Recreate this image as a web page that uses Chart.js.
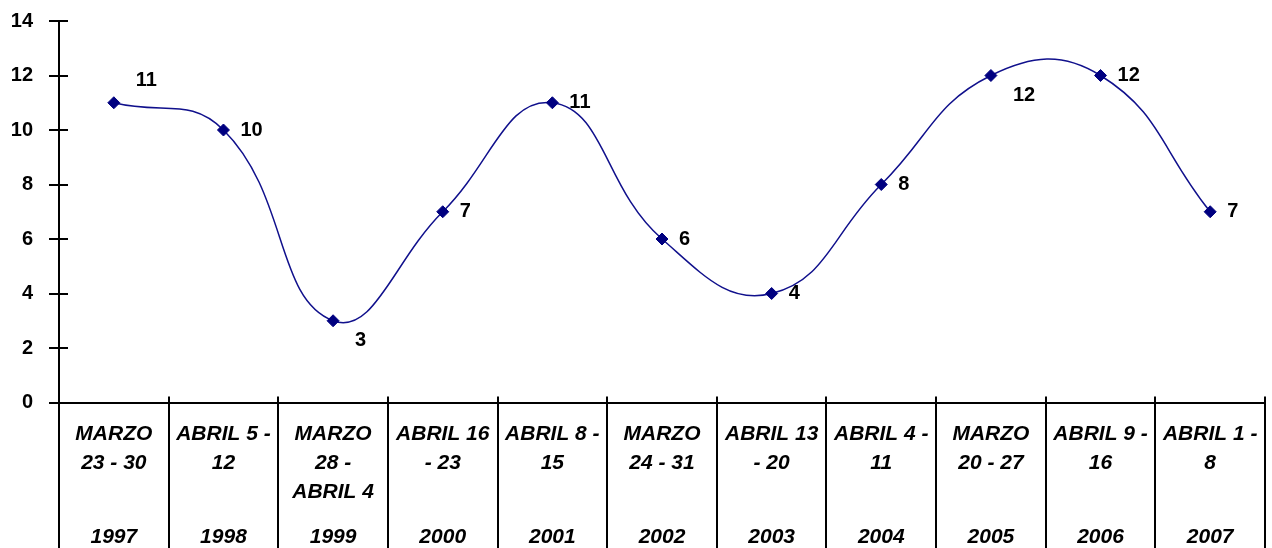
<!DOCTYPE html>
<html><head><meta charset="utf-8">
<script src="https://cdn.jsdelivr.net/npm/chart.js@4.4.1/dist/chart.umd.min.js"></script>
<style>html,body{margin:0;padding:0;background:#fff;overflow:hidden;} canvas{display:block;}</style>
</head><body>
<canvas id="c" width="1272" height="548"></canvas>
<script>
const periods = [
  ["MARZO", "23 - 30"],
  ["ABRIL 5 -", "12"],
  ["MARZO", "28 -", "ABRIL 4"],
  ["ABRIL 16", "- 23"],
  ["ABRIL 8 -", "15"],
  ["MARZO", "24 - 31"],
  ["ABRIL 13", "- 20"],
  ["ABRIL 4 -", "11"],
  ["MARZO", "20 - 27"],
  ["ABRIL 9 -", "16"],
  ["ABRIL 1 -", "8"]
];
const years = ["1997", "1998", "1999", "2000", "2001", "2002", "2003", "2004", "2005", "2006", "2007"];
const values = [11, 10, 3, 7, 11, 6, 4, 8, 12, 12, 7];
const labelSide = ["above", "right", "below", "right", "right", "right", "right", "right", "below", "right", "right"];
const yMin = 0, yMax = 14, yStep = 2;

const FONT = '"Liberation Sans", Arial, sans-serif';
Chart.defaults.font.family = FONT;
Chart.defaults.color = '#000';

const extras = {
  id: 'extras',
  afterDraw(chart) {
    const ctx = chart.ctx, xs = chart.scales.x, ys = chart.scales.y, area = chart.chartArea;
    ctx.save();
    ctx.strokeStyle = '#000';
    ctx.lineWidth = 2;
    ys.ticks.forEach((t, i) => {
      const py = Math.round(ys.getPixelForTick(i));
      ctx.beginPath(); ctx.moveTo(area.left, py); ctx.lineTo(area.left + 9, py); ctx.stroke();
    });
    for (let i = 1; i <= values.length; i++) {
      const px = Math.round(xs.getPixelForValue(i - 0.5));
      ctx.beginPath(); ctx.moveTo(px, area.bottom); ctx.lineTo(px, area.bottom - 6); ctx.stroke();
    }
    const meta = chart.getDatasetMeta(0);
    ctx.font = 'bold 20px ' + FONT;
    ctx.fillStyle = '#000';
    ctx.textAlign = 'left';
    ctx.textBaseline = 'middle';
    meta.data.forEach((pt, i) => {
      let dx = 17, dy = 0;
      if (labelSide[i] === 'above') { dx = 22; dy = -22; }
      else if (labelSide[i] === 'below') { dx = 22; dy = 20; }
      ctx.fillText(String(values[i]), pt.x + dx, pt.y + dy);
    });
    ctx.restore();
  }
};

const tickFont = { family: FONT, size: 21, weight: 'bold', style: 'italic', lineHeight: '29px' };

new Chart(document.getElementById('c'), {
  type: 'line',
  data: {
    labels: periods,
    datasets: [{
      data: values,
      borderColor: '#10108c',
      backgroundColor: '#000080',
      borderWidth: 1.5,
      tension: 0.45,
      fill: false,
      pointStyle: 'rectRot',
      pointRadius: 6,
      pointBackgroundColor: '#000080',
      pointBorderColor: '#000080',
      pointBorderWidth: 1,
      clip: false
    }]
  },
  options: {
    responsive: false,
    devicePixelRatio: 1,
    animation: false,
    layout: { padding: { top: 21, right: 1, left: 0, bottom: 0 } },
    plugins: { legend: { display: false }, tooltip: { enabled: false } },
    scales: {
      x: {
        type: 'category',
        position: 'bottom',
        weight: 0,
        offset: true,
        grid: { offset: true, drawOnChartArea: false, tickLength: 125, color: '#000', lineWidth: 2 },
        border: { display: true, color: '#000', width: 2 },
        ticks: { autoSkip: false, maxRotation: 0, minRotation: 0, padding: -108, color: '#000', font: tickFont },
        afterFit(s) { s.height = 112; }
      },
      x2: {
        type: 'category',
        position: 'bottom',
        labels: years,
        weight: 1,
        offset: true,
        grid: { offset: true, drawOnChartArea: false, tickLength: 40, color: '#000', lineWidth: 2 },
        border: { display: false },
        ticks: { autoSkip: false, maxRotation: 0, minRotation: 0, padding: -32, color: '#000', font: tickFont },
        afterFit(s) { s.height = 33.5; }
      },
      y: {
        min: yMin, max: yMax,
        ticks: { stepSize: yStep, padding: 16, color: '#000', font: { family: FONT, size: 20, weight: 'bold' } },
        grid: { drawOnChartArea: false, tickLength: 10, color: '#000', lineWidth: 2 },
        border: { color: '#000', width: 2 },
        afterFit(s) { s.width = 59; s.paddingTop = 0; s.paddingBottom = 0; }
      }
    }
  },
  plugins: [extras]
});
</script>
</body></html>
